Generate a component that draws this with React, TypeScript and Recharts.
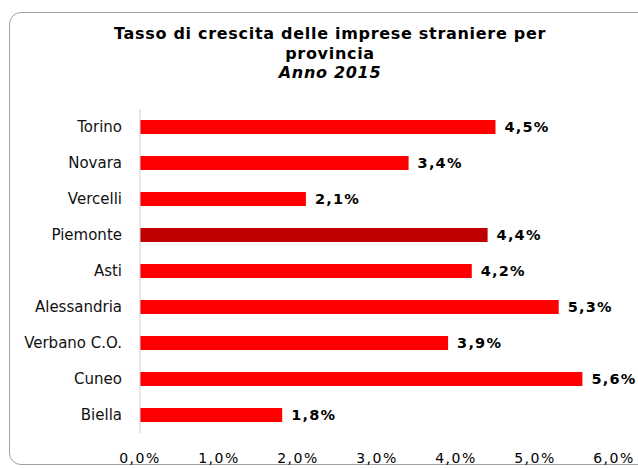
import React from "react";
import { BarChart, Bar, XAxis, YAxis, Cell, LabelList } from "recharts";

const categories = ["Torino", "Novara", "Vercelli", "Piemonte", "Asti", "Alessandria", "Verbano C.O.", "Cuneo", "Biella"];
const values = [4.5, 3.4, 2.1, 4.4, 4.2, 5.3, 3.9, 5.6, 1.8];
const highlight = "Piemonte";
const xTicks = [0, 1, 2, 3, 4, 5, 6];

const data = categories.map((c, i) => ({ name: c, value: values[i] }));
const fmt = (v: number) => v.toFixed(1).replace(".", ",") + "%";
const FONT = "'DejaVu Sans', Verdana, sans-serif";

export default function App() {
  return (
    <div style={{ position: "absolute", left: 0, top: 0, width: 638, height: 468, overflow: "hidden", background: "#fff" }}>
      <div style={{ position: "absolute", left: 9, top: 12, width: 660, height: 453, border: "1.5px solid #a0a0a0", borderRadius: 12, boxSizing: "border-box" }} />
      <div style={{ position: "absolute", left: 0, top: 24, width: 660, textAlign: "center", fontFamily: FONT, fontWeight: "bold", fontSize: 16, letterSpacing: 0.7, lineHeight: "19.5px", color: "#000" }}>
        <div>Tasso di crescita delle imprese straniere per</div>
        <div>provincia</div>
        <div style={{ fontStyle: "italic" }}>Anno 2015</div>
      </div>
      <div style={{ position: "absolute", left: 0, top: 0 }}>
        <BarChart width={638} height={468} data={data} layout="vertical" margin={{ top: 109, right: 24, bottom: 5, left: 10 }} barCategoryGap={11}>
          <XAxis type="number" domain={[0, 6]} ticks={xTicks} tickFormatter={fmt} axisLine={false} tickLine={false} height={30}
            tick={{ fill: "#000", fontFamily: FONT, fontSize: 14, letterSpacing: 1.5, dy: 12 }} interval={0} />
          <YAxis type="category" dataKey="name" width={130} tickLine={false} axisLine={{ stroke: "#cfcfcf" }}
            tick={{ fill: "#111", fontFamily: FONT, fontSize: 15 }} tickMargin={12} interval={0} />
          <Bar dataKey="value" isAnimationActive={false}>
            {data.map((d) => (
              <Cell key={d.name} fill={d.name === highlight ? "#C00000" : "#FF0000"} />
            ))}
            <LabelList dataKey="value" position="right" offset={9} formatter={(v: any) => fmt(Number(v))}
              style={{ fill: "#000", fontFamily: FONT, fontWeight: "bold", fontSize: 14.5, letterSpacing: 1.2 }} />
          </Bar>
        </BarChart>
      </div>
    </div>
  );
}
